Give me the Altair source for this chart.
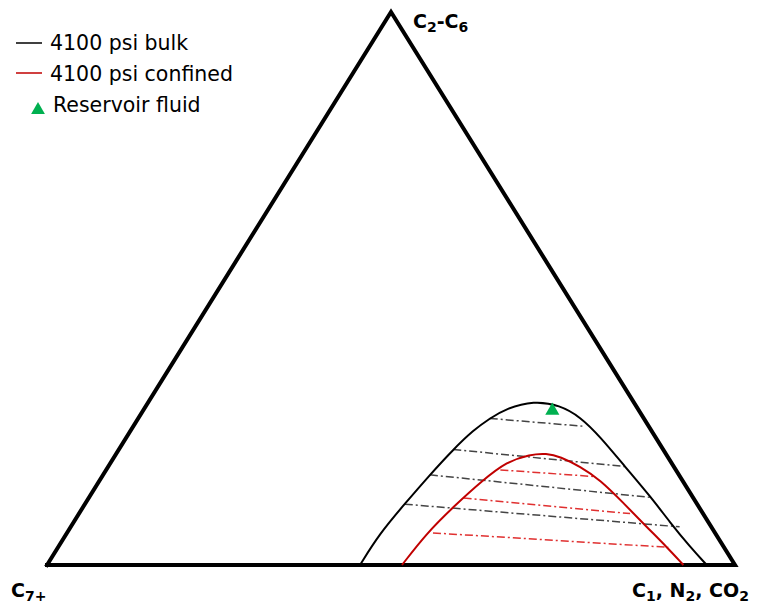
import altair as alt
import pandas as pd

# Compositions in mol %: C1+N2+CO2 and C2-C6 (C7+ is the remainder)
BULK_C1 = [45.5, 45.5, 46.5, 47.5, 48.6, 49.8, 51.1, 52.6, 55.9, 60.1, 64.1, 68.8, 75.1, 81.5, 86.6, 91.8, 95.9]
BULK_C2C6 = [0.0, 5.7, 11.2, 16.3, 20.9, 24.4, 26.5, 28.3, 29.7, 28.9, 26.8, 23.2, 17.8, 12.4, 7.8, 3.3, 0.0]

CONF_C1 = [51.6, 52.3, 53.8, 55.7, 57.5, 60.2, 62.5, 64.8, 68.6, 72.7, 78.2, 83.7, 88.4, 92.5]
CONF_C2C6 = [0.0, 5.7, 10.5, 15.4, 18.7, 20.0, 20.2, 19.6, 17.8, 15.4, 11.2, 6.9, 3.3, 0.0]

# Tie lines: liquid end / vapour end
TIE_BULK_LIQ_C1 = [51.1, 48.6, 47.5, 46.5]
TIE_BULK_LIQ_C2C6 = [26.5, 20.9, 16.3, 11.0]
TIE_BULK_VAP_C1 = [65.4, 75.1, 81.8, 88.5]
TIE_BULK_VAP_C2C6 = [25.1, 17.8, 12.2, 6.9]

TIE_CONF_LIQ_C1 = [57.3, 54.5, 53.2]
TIE_CONF_LIQ_C2C6 = [17.2, 12.1, 5.8]
TIE_CONF_VAP_C1 = [71.4, 80.1, 88.7]
TIE_CONF_VAP_C2C6 = [16.0, 9.3, 3.2]

FLUID_C1 = [59.3]
FLUID_C2C6 = [28.3]

# Vertex labels as (text, is_subscript) pieces
VERTEX_LABELS = [
    [("C", False), ("7+", True)],
    [("C", False), ("1", True), (", N", False), ("2", True), (", CO", False), ("2", True)],
    [("C", False), ("2", True), ("-C", False), ("6", True)],
]
VERTEX_C1 = [0.0, 100.0, 0.0]
VERTEX_C2C6 = [0.0, 0.0, 100.0]

LEGEND_LABELS = ["4100 psi bulk", "4100 psi confined", "Reservoir fluid"]


def ternary(c1, c2c6):
    """Map (C1, C2-C6) percentages to cartesian ternary coordinates."""
    return c1 / 100.0 + 0.5 * c2c6 / 100.0, c2c6 / 100.0


def points(c1s, c2s, **extra):
    rows = []
    for i, (a, b) in enumerate(zip(c1s, c2s)):
        x, y = ternary(a, b)
        row = {"x": x, "y": y, "order": i}
        row.update(extra)
        rows.append(row)
    return rows


W, H = 759, 605
# plot margins (px) around the triangle
LEFT, RIGHT, TOP, BOTTOM = 47, 24, 12, 40
sx = (W - LEFT - RIGHT)
sy = (H - TOP - BOTTOM)
XDOM = [-LEFT / sx, 1 + RIGHT / sx]
YDOM = [-BOTTOM / sy, 1 + TOP / sy]

X = alt.X("x:Q", scale=alt.Scale(domain=XDOM, nice=False, zero=False), axis=None)
Y = alt.Y("y:Q", scale=alt.Scale(domain=YDOM, nice=False, zero=False), axis=None)

frame_df = pd.DataFrame(points(VERTEX_C1 + [VERTEX_C1[0]], VERTEX_C2C6 + [VERTEX_C2C6[0]]))
frame = alt.Chart(frame_df).mark_line(
    color="black", strokeWidth=4, strokeJoin="miter", strokeCap="square"
).encode(x=X, y=Y, order="order:Q")

bulk_df = pd.DataFrame(points(BULK_C1, BULK_C2C6))
conf_df = pd.DataFrame(points(CONF_C1, CONF_C2C6))

bulk = alt.Chart(bulk_df).mark_line(
    color="black", strokeWidth=2, interpolate="basis"
).encode(x=X, y=Y, order="order:Q")
conf = alt.Chart(conf_df).mark_line(
    color="#c00000", strokeWidth=2, interpolate="basis"
).encode(x=X, y=Y, order="order:Q")


def tie_rows(l1, l2, v1, v2):
    rows = []
    for k in range(len(l1)):
        rows += points([l1[k], v1[k]], [l2[k], v2[k]], tie=k)
    return pd.DataFrame(rows)


tie_bulk = alt.Chart(tie_rows(TIE_BULK_LIQ_C1, TIE_BULK_LIQ_C2C6, TIE_BULK_VAP_C1, TIE_BULK_VAP_C2C6)).mark_line(
    color="#444444", strokeWidth=1.5, strokeDash=[8, 3, 2, 3]
).encode(x=X, y=Y, detail="tie:N", order="order:Q")

tie_conf = alt.Chart(tie_rows(TIE_CONF_LIQ_C1, TIE_CONF_LIQ_C2C6, TIE_CONF_VAP_C1, TIE_CONF_VAP_C2C6)).mark_line(
    color="#e03030", strokeWidth=1.5, strokeDash=[8, 3, 2, 3]
).encode(x=X, y=Y, detail="tie:N", order="order:Q")

fluid = alt.Chart(pd.DataFrame(points(FLUID_C1, FLUID_C2C6))).mark_point(
    shape="triangle-up", filled=True, color="#00b050", size=200, opacity=1
).encode(x=X, y=Y)

# Vertex labels: main text and subscripts set piece by piece
MAIN_SIZE, SUB_SIZE, SUB_DROP = 19, 14, 4
# DejaVu Sans Bold advance widths (em)
ADV = {"C": 0.735, "N": 0.837, "O": 0.850, ",": 0.381, " ": 0.348, "-": 0.415, "+": 0.838}
for d in "0123456789":
    ADV[d] = 0.696


def text_width(s, size):
    return sum(ADV.get(ch, 0.6) for ch in s) * size


# (dx of label start from the vertex, dy of baseline from the vertex)
LABEL_OFFSETS = [(-36, 32), (-103, 32), (22, 16)]

label_layers = []
for v, pieces in enumerate(VERTEX_LABELS):
    vrow = pd.DataFrame(points([VERTEX_C1[v]], [VERTEX_C2C6[v]]))
    dx0, dy0 = LABEL_OFFSETS[v]
    cursor = dx0
    for txt, is_sub in pieces:
        size = SUB_SIZE if is_sub else MAIN_SIZE
        label_layers.append(
            alt.Chart(vrow).mark_text(
                font="DejaVu Sans", fontWeight="bold", fontSize=size, color="black",
                align="left", baseline="alphabetic",
                dx=cursor, dy=dy0 + (SUB_DROP if is_sub else 0),
            ).encode(x=X, y=Y, text=alt.value(txt))
        )
        cursor += text_width(txt, size)

# legend, drawn by hand in the top-left corner
one = alt.Data(values=[{}])
leg_bulk = alt.Chart(one).mark_rule(color="black", strokeWidth=1.5).encode(
    x=alt.value(16), x2=alt.value(42), y=alt.value(43))
leg_conf = alt.Chart(one).mark_rule(color="#c00000", strokeWidth=1.5).encode(
    x=alt.value(16), x2=alt.value(42), y=alt.value(73))
leg_fluid = alt.Chart(one).mark_point(shape="triangle-up", filled=True, color="#00b050", size=190, opacity=1).encode(
    x=alt.value(38), y=alt.value(108))
leg_font = dict(font="DejaVu Sans", fontSize=20.5, color="black", align="left", baseline="alphabetic")
leg_t1 = alt.Chart(one).mark_text(**leg_font).encode(x=alt.value(50), y=alt.value(50), text=alt.value(LEGEND_LABELS[0]))
leg_t2 = alt.Chart(one).mark_text(**leg_font).encode(x=alt.value(50), y=alt.value(81), text=alt.value(LEGEND_LABELS[1]))
leg_t3 = alt.Chart(one).mark_text(**leg_font).encode(x=alt.value(53), y=alt.value(112), text=alt.value(LEGEND_LABELS[2]))

chart = alt.layer(
    frame, tie_bulk, tie_conf, bulk, conf, fluid,
    *label_layers,
    leg_bulk, leg_conf, leg_fluid, leg_t1, leg_t2, leg_t3,
).properties(
    width=W, height=H, padding=0, autosize=alt.AutoSizeParams(type="none"), background="white"
).configure_view(stroke=None)

chart.save("out.html", embed_options={"renderer": "svg", "actions": False})
